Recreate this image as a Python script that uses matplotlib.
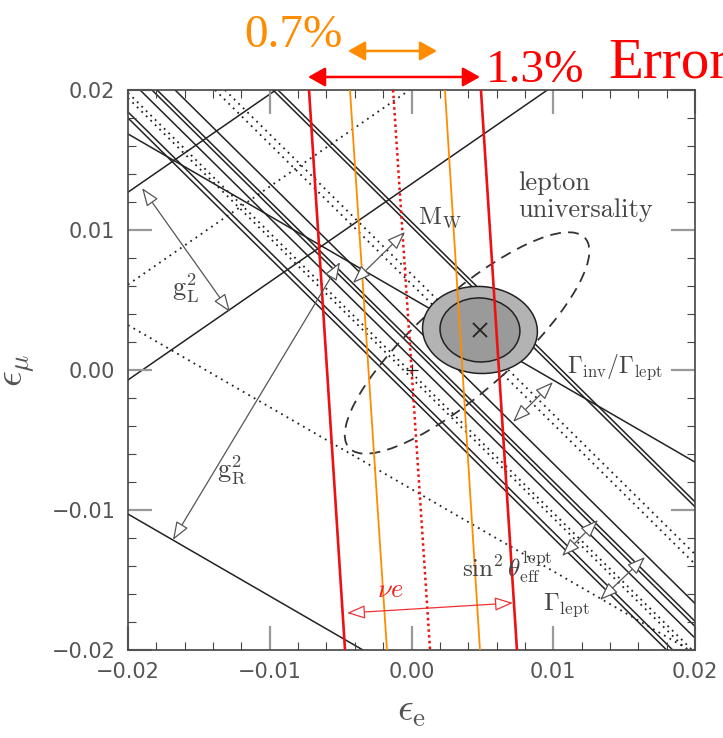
import matplotlib.pyplot as plt
from matplotlib.patches import Ellipse
from matplotlib.ticker import MultipleLocator

plt.rcParams['mathtext.fontset'] = 'cm'

# nearly vertical bands, eps_e where each line meets the top / bottom edge
red_top = [-0.00723, 0.00490]
red_bot = [-0.00469, 0.00744]
red_mid = [-0.00130, 0.00131]
orange_top = [-0.00434, 0.00236]
orange_bot = [-0.00173, 0.00483]

# Z-pole bundle: eps_mu = c - eps_e
bundle_solid = [-0.00200, -0.00157, 0.00085, 0.00169, 0.00205, 0.00332]
bundle_dotted = [-0.00057, -0.00020, 0.00614, 0.00684]
mw_lines = [0.01023, 0.01058]

# g_L^2 and g_R^2 bands: eps_mu = c + slope * eps_e
gl_slope = 0.70
gl_solid = [0.02670, 0.01329]
gl_dotted = [0.02010]
gr_slope = -0.586
gr_solid = [0.00514, -0.02201]
gr_dotted = [-0.00851]

# fit results
fit_center = (0.00483, 0.00286)
fit_outer = (0.00811, 0.00621)
fit_inner = (0.00564, 0.00457)
univ_center = (0.00392, 0.00193)
univ_size = (0.0224, 0.0068)
univ_angle = 42

# band-width arrows (start, end)
gray_arrows = {
    'gL': ((-0.01901, 0.01300), (-0.01280, 0.00414)),
    'gR': ((-0.00504, 0.00771), (-0.01683, -0.01214)),
    'MW': ((-0.00413, 0.00621), (-0.00046, 0.00986)),
    'inv': ((0.00716, -0.00371), (0.00998, -0.00086)),
    'sin': ((0.01062, -0.01329), (0.01316, -0.01071)),
    'lept': ((0.01330, -0.01643), (0.01647, -0.01336)),
}
nue_arrow = ((-0.00455, -0.01736), (0.00716, -0.01664))
err13 = ((-0.00730, 0.02093), (0.00483, 0.02093))
err07 = ((-0.00448, 0.02279), (0.00180, 0.02279))

ticks = [-0.02, -0.01, 0.0, 0.01, 0.02]
tick_labels = ['\u22120.02', '\u22120.01', '0.00', '0.01', '0.02']

fig = plt.figure(figsize=(7.23, 7.38), dpi=100)
ax = fig.add_axes([128 / 723, 1 - 650 / 738, 567 / 723, 560 / 738])
ax.set_xlim(-0.02, 0.02)
ax.set_ylim(-0.02, 0.02)

black = '#222222'
dot = (0, (1, 2.5))
for c in bundle_solid + mw_lines:
    ax.axline((0, c), slope=-1, color=black, lw=1.1, zorder=1)
for c in bundle_dotted:
    ax.axline((0, c), slope=-1, color=black, lw=1.3, ls=dot, zorder=1)
for c in gl_solid:
    ax.axline((0, c), slope=gl_slope, color=black, lw=1.1, zorder=1)
for c in gl_dotted:
    ax.axline((0, c), slope=gl_slope, color=black, lw=1.3, ls=dot, zorder=1)
for c in gr_solid:
    ax.axline((0, c), slope=gr_slope, color=black, lw=1.1, zorder=1)
for c in gr_dotted:
    ax.axline((0, c), slope=gr_slope, color=black, lw=1.3, ls=dot, zorder=1)

# lepton universality contour
ax.add_patch(Ellipse(univ_center, univ_size[0], univ_size[1], angle=univ_angle,
                     fill=False, ec='#333333', lw=1.3, ls=(0, (6, 4)), zorder=2))
# fit contours
ax.add_patch(Ellipse(fit_center, fit_outer[0], fit_outer[1], angle=-4,
                     fc='#b3b3b3', ec=black, lw=1.1, zorder=3))
ax.add_patch(Ellipse(fit_center, fit_inner[0], fit_inner[1], angle=-4,
                     fc='#9a9a9a', ec=black, lw=1.1, zorder=3))
ax.plot(*fit_center, marker='x', ms=10, mew=1.3, color=black, zorder=4)
ax.plot(0, 0, marker='+', ms=9, mew=0.9, color=black, zorder=4)

for x0, x1 in zip(orange_top, orange_bot):
    ax.plot([x0, x1], [0.02, -0.02], color='#ff8c00', lw=1.3, zorder=5)
for x0, x1 in zip(red_top, red_bot):
    ax.plot([x0, x1], [0.02, -0.02], color='#ee1111', lw=1.9, zorder=5)
ax.plot(red_mid, [0.02, -0.02], color='#ee1111', lw=1.8, ls=(0, (1, 1.3)), zorder=5)

for p0, p1 in gray_arrows.values():
    ax.annotate('', xy=p1, xytext=p0, zorder=6,
                arrowprops=dict(arrowstyle='<|-|>,head_length=0.8,head_width=0.3',
                                fc='white', ec='#555555', lw=0.9,
                                shrinkA=0, shrinkB=0, mutation_scale=14))
ax.annotate('', xy=nue_arrow[1], xytext=nue_arrow[0], zorder=6,
            arrowprops=dict(arrowstyle='<|-|>,head_length=0.8,head_width=0.3',
                            fc='white', ec='#ee3333', lw=0.9,
                            shrinkA=0, shrinkB=0, mutation_scale=14))

lab = dict(color='#444444', fontsize=19, va='center', ha='left', zorder=7)
ax.text(-0.01690, 0.00586, r'$\mathrm{g}^2_\mathrm{L}$', **lab)
ax.text(-0.01370, -0.00714, r'$\mathrm{g}^2_\mathrm{R}$', **lab)
ax.text(0.00046, 0.01086, r'$\mathrm{M}_\mathrm{W}$', **{**lab, 'fontsize': 18})
ax.text(0.01097, 0.00021, r'$\Gamma_\mathrm{inv}/\Gamma_\mathrm{lept}$',
        **{**lab, 'fontsize': 17})
ax.text(0.00356, -0.01407, r'$\sin^2\theta^\mathrm{lept}_\mathrm{eff}$',
        **{**lab, 'fontsize': 18})
ax.text(0.00928, -0.01679, r'$\Gamma_\mathrm{lept}$', **{**lab, 'fontsize': 18})
ax.text(-0.00152, -0.01571, r'$\nu e$', color='#ee2222', fontsize=19,
        ha='center', va='center', zorder=7)
ax.text(0.00751, 0.01240, 'lepton\nuniversality', family='cmr10', fontsize=19,
        color='#444444', ha='left', va='center', linespacing=1.15, zorder=7)

# error bars above the frame
for (p0, p1), col in [(err13, '#ff0000'), (err07, '#ff8c00')]:
    ax.annotate('', xy=p1, xytext=p0, annotation_clip=False,
                arrowprops=dict(arrowstyle='<|-|>,head_length=0.8,head_width=0.45',
                                fc=col, ec=col, lw=1.8, shrinkA=0, shrinkB=0,
                                mutation_scale=13))
fig.text(244 / 723, 1 - 47 / 738, '0.7%', color='#ff8c00', fontsize=34,
         family='Liberation Serif', va='baseline')
fig.text(486 / 723, 1 - 82 / 738, '1.3%', color='#ff0000', fontsize=34,
         family='Liberation Serif', va='baseline')
fig.text(608 / 723, 1 - 78 / 738, 'Error', color='#ff0000', fontsize=41,
         family='Liberation Serif', va='baseline')

ax.set_xticks(ticks)
ax.set_xticklabels(tick_labels)
ax.set_yticks(ticks)
ax.set_yticklabels(tick_labels)
ax.xaxis.set_minor_locator(MultipleLocator(0.002))
ax.yaxis.set_minor_locator(MultipleLocator(0.002))
ax.tick_params(which='major', direction='in', length=17, width=1.6, color='#999999',
               top=True, right=True, labelsize=15, labelcolor='#555555', pad=9)
ax.tick_params(which='minor', direction='in', length=6, width=0.8, color='#444444',
               top=True, right=True)
for s in ax.spines.values():
    s.set_color('#444444')
    s.set_linewidth(1.2)

ax.set_xlabel(r'$\epsilon_\mathrm{e}$', fontsize=28, color='#555555', labelpad=6)
ax.set_ylabel(r'$\epsilon_\mu$', fontsize=28, color='#555555', labelpad=10)

fig.savefig('out.png', dpi=100)
